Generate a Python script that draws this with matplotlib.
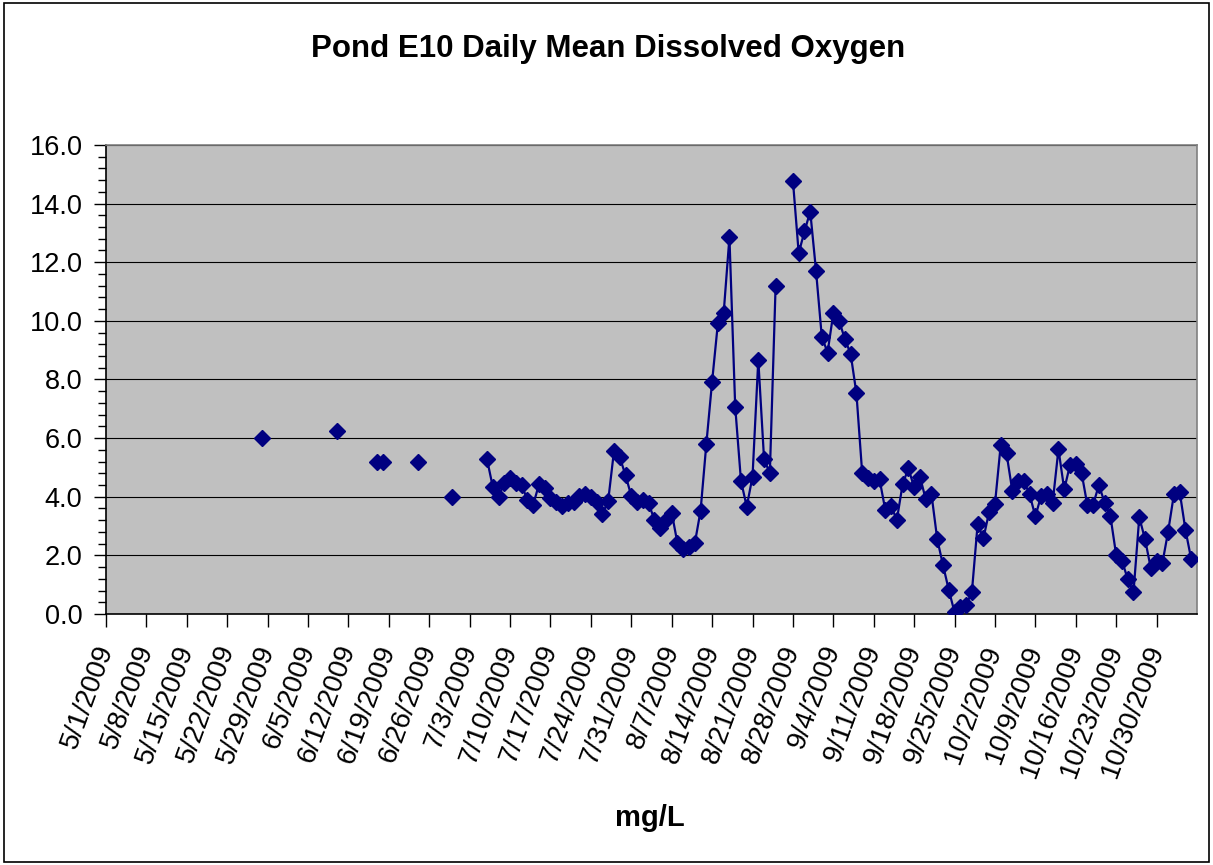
import datetime as dt
import numpy as np
import matplotlib
matplotlib.use('Agg')
import matplotlib.pyplot as plt
from matplotlib.patches import Rectangle
from matplotlib.ticker import MultipleLocator

plt.rcParams['font.family'] = ['Liberation Sans', 'DejaVu Sans']

# sparse early readings
early_dates = ['2009-05-28', '2009-06-10', '2009-06-17', '2009-06-18', '2009-06-24', '2009-06-30']
early_vals = [6.00, 6.25, 5.20, 5.20, 5.20, 4.00]

# continuous daily readings from 7/6/2009 (None = no reading)
daily_start = '2009-07-06'
daily_vals = [
    5.28, 4.34, 4.00, 4.48, 4.63, 4.48, 4.40, 3.89, 3.72, 4.42,
    4.29, 3.95, 3.83, 3.68, 3.78, 3.83, 4.03, 4.09, 4.00, 3.83,
    3.40, 3.87, 5.56, 5.35, 4.73, 4.03, 3.83, 3.89, 3.78, 3.21,
    2.92, 3.21, 3.46, 2.41, 2.21, 2.30, 2.41, 3.52, 5.80, 7.93,
    9.92, 10.26, 12.85, 7.07, 4.54, 3.66, 4.69, 8.67, 5.28, 4.80,
    11.19, None, None, 14.78, 12.31, 13.05, 13.73, 11.71, 9.46, 8.92,
    10.26, 10.00, 9.38, 8.87, 7.53, 4.80, 4.63, 4.55, 4.60, 3.55,
    3.68, 3.21, 4.42, 4.97, 4.32, 4.69, 3.92, 4.09, 2.55, 1.67,
    0.82, 0.06, 0.23, 0.31, 0.74, 3.07, 2.58, 3.49, 3.75, 5.77,
    5.48, 4.21, 4.54, 4.54, 4.08, 3.33, 4.03, 4.09, 3.80, 5.62,
    4.25, 5.08, 5.10, 4.82, 3.72, 3.72, 4.40, 3.80, 3.34, 2.01,
    1.82, 1.19, 0.74, 3.30, 2.55, 1.56, 1.81, 1.73, 2.81, 4.08,
    4.17, 2.87, 1.87,
]

x_start = dt.date(2009, 5, 1)
x_end = dt.date(2009, 11, 6)

# build one series, with NaN wherever consecutive days are missing
d0 = dt.date.fromisoformat(daily_start)
dates = [dt.date.fromisoformat(s) for s in early_dates]
vals = list(early_vals)
dates += [d0 + dt.timedelta(days=i) for i in range(len(daily_vals))]
vals += [np.nan if v is None else v for v in daily_vals]
xs, ys = [], []
for i, (d, v) in enumerate(zip(dates, vals)):
    if i > 0 and (d - dates[i - 1]).days > 1:
        xs.append(dates[i - 1] + dt.timedelta(days=1))
        ys.append(np.nan)
    xs.append(d)
    ys.append(v)

fig = plt.figure(figsize=(12.13, 8.65), dpi=100)
fig.patches.append(Rectangle((0.003, 0.003), 0.994, 0.993, transform=fig.transFigure,
                             fill=False, edgecolor='black', linewidth=1.2))
ax = fig.add_axes([0.0874, 0.2902, 0.8994, 0.5422])
ax.set_facecolor('#C0C0C0')

ax.plot(xs, ys, color='#000080', linewidth=1.6, marker='D', markersize=8.5,
        markeredgecolor='#000080', markerfacecolor='#000080', zorder=3)

ax.set_xlim(x_start, x_end)
ax.set_ylim(0, 16)
ax.yaxis.set_major_locator(MultipleLocator(2))
ax.yaxis.set_minor_locator(MultipleLocator(0.4))
ax.yaxis.set_major_formatter(plt.FuncFormatter(lambda v, p: f'{v:.1f}'))
ax.grid(True, axis='y', which='major', color='black', linewidth=0.8)
ax.set_axisbelow(True)

week_ticks = [x_start + dt.timedelta(days=7 * k) for k in range(27)]
ax.set_xticks(week_ticks)
ax.set_xticklabels([f'{d.month}/{d.day}/{d.year}' for d in week_ticks],
                   rotation=70, ha='right', va='center', rotation_mode='anchor')

ax.tick_params(axis='y', which='major', length=9, width=1, direction='out', labelsize=19.5, pad=8)
ax.tick_params(axis='y', which='minor', length=6, width=1, direction='out')
ax.tick_params(axis='x', which='major', length=9, width=1, direction='out', labelsize=20, pad=14)

for side in ['top', 'right']:
    ax.spines[side].set_color('#808080')
    ax.spines[side].set_linewidth(1.2)
for side in ['left', 'bottom']:
    ax.spines[side].set_color('black')
    ax.spines[side].set_linewidth(1.2)

fig.text(0.501, 0.943, 'Pond E10 Daily Mean Dissolved Oxygen', ha='center', va='center',
         fontsize=22.5, fontweight='bold')
fig.text(0.536, 0.054, 'mg/L', ha='center', va='center', fontsize=21, fontweight='bold')

fig.savefig('out.png', dpi=100)
